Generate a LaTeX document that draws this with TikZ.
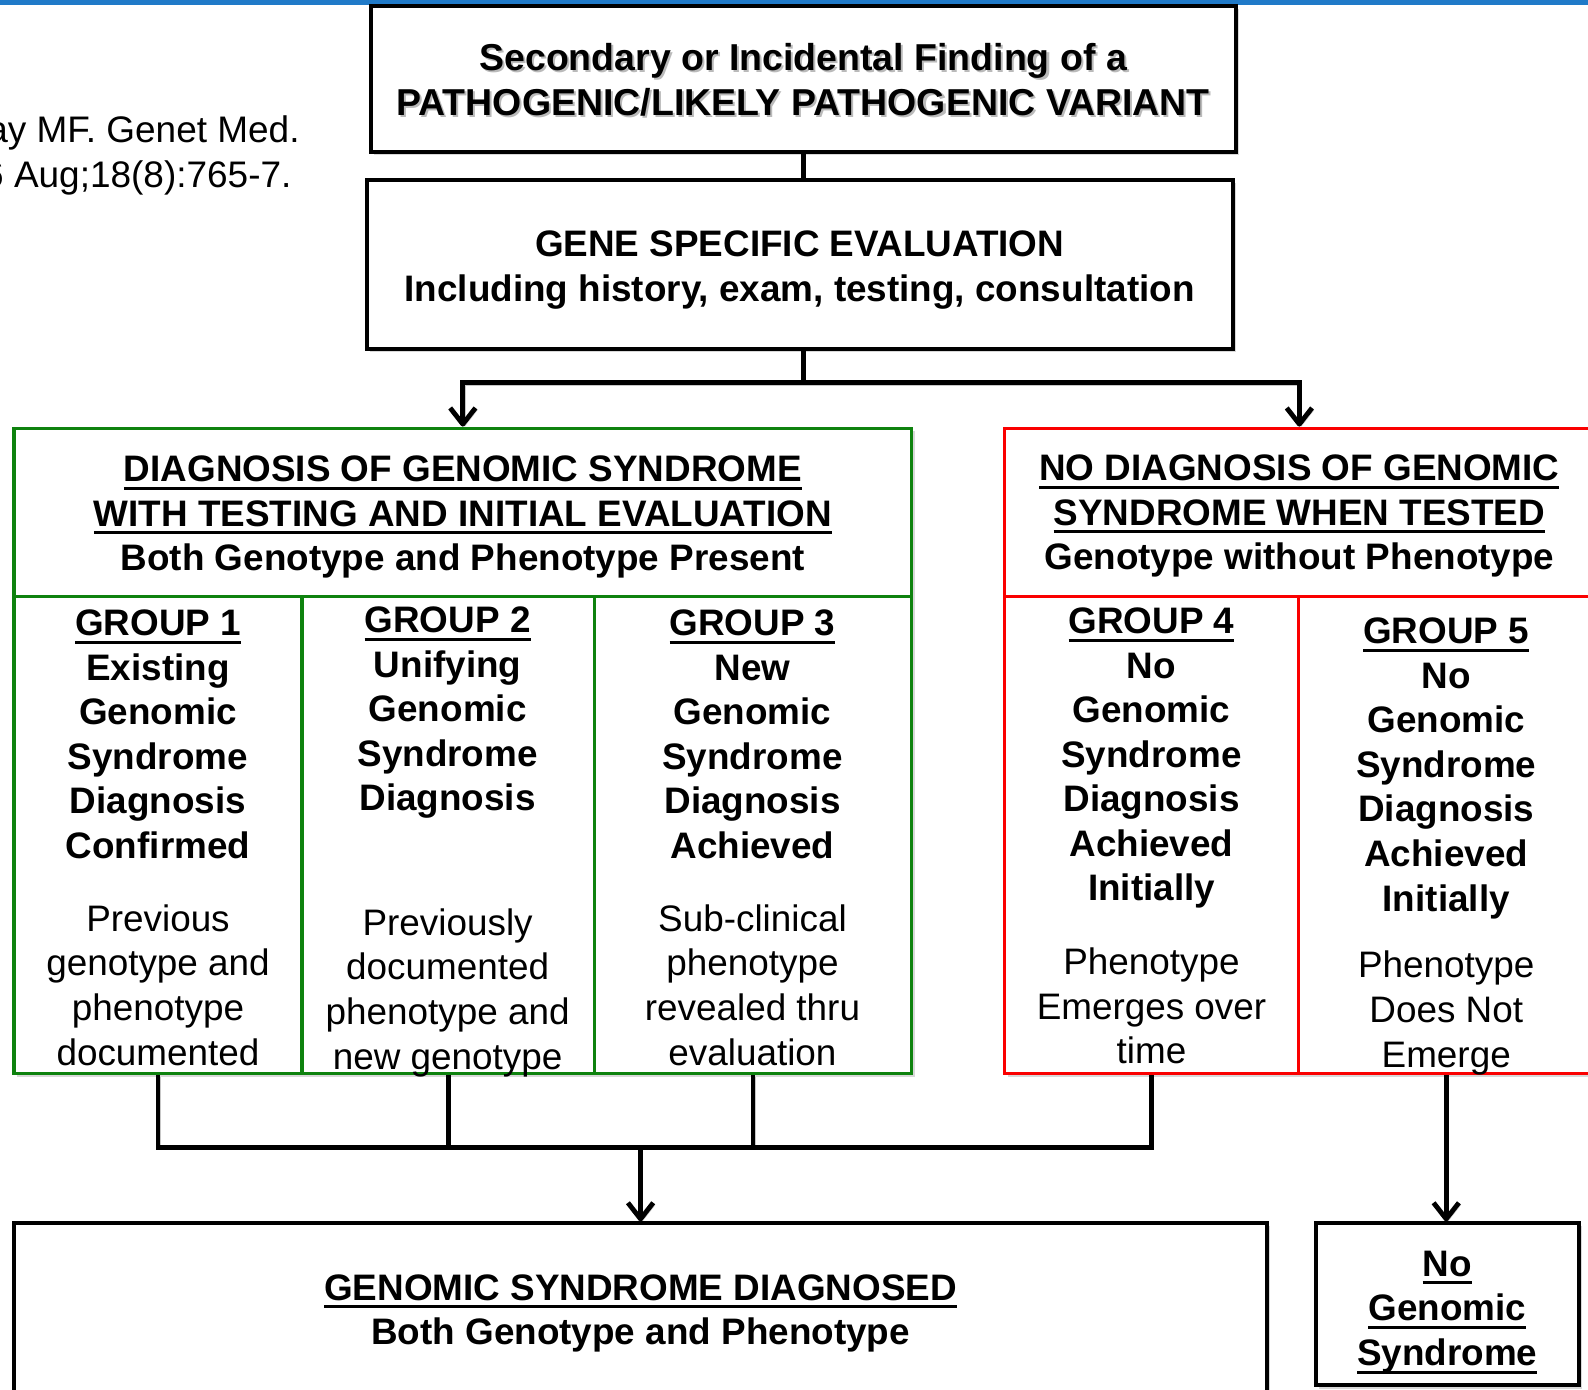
\documentclass[tikz,border=0pt]{standalone}
\usepackage{fontspec}
\setmainfont{Liberation Sans}
\usetikzlibrary{arrows.meta,shadows}

\definecolor{barblue}{RGB}{32,122,200}
\definecolor{dgreen}{RGB}{14,130,14}
\definecolor{rred}{RGB}{250,0,0}

% thick underline placed a little below the baseline
\newcommand\ulin[1]{\setbox0=\hbox{#1}\rlap{\rule[-8pt]{\wd0}{3pt}}\box0}

\tikzset{
  box/.style={draw=black, line width=4pt, fill=white, inner sep=0pt,
    drop shadow={shadow xshift=3pt, shadow yshift=-3pt, opacity=0.3}},
  gbox/.style={box, draw=dgreen, line width=3.6pt},
  rbox/.style={box, draw=rred, line width=3.6pt},
  txt/.style={anchor=north, inner sep=0pt, align=center,
    font=\fontsize{36.4}{44}\selectfont\bfseries, execute at begin node=\strut},
  rtxt/.style={txt, font=\fontsize{36.4}{44}\selectfont},
  citetxt/.style={anchor=north east, inner sep=0pt,
    font=\fontsize{36.5}{44}\selectfont, execute at begin node=\strut},
  conn/.style={line width=4.8pt,
    preaction={draw=black, opacity=0.22, transform canvas={xshift=2pt,yshift=-2pt}}},
  arr/.style={conn, -{Straight Barb[length=16pt,width=25pt,line join=round]}},
}

\begin{document}
\begin{tikzpicture}[x=1pt,y=-1pt]
\useasboundingbox (0,0) rectangle (1568,1372);
\clip (0,0) rectangle (1568,1372);
\fill[white] (0,0) rectangle (1568,1372);
\fill[barblue] (0,0) rectangle (1568,5);

% citation, running off the left edge
\node[citetxt] (cite1) at (296,110) {ay MF. Genet Med.};
\node[citetxt] (cite2) at (288,154) {6 Aug;18(8):765-7.};

% top of the flow
\node[box, minimum width=854pt, minimum height=145pt] (top) at (793,78) {};
\node[txt, font=\fontsize{37}{44}\selectfont\bfseries, text=black!45, opacity=0.6,
  xshift=2pt, yshift=-2pt] (topshadow) at (793,43)
  {Secondary or Incidental Finding of a\\PATHOGENIC/LIKELY PATHOGENIC VARIANT};
\node[txt, font=\fontsize{37}{44}\selectfont\bfseries] (toptext) at (793,43)
  {Secondary or Incidental Finding of a\\PATHOGENIC/LIKELY PATHOGENIC VARIANT};

\node[box, minimum width=855pt, minimum height=167pt] (gene) at (789.5,261.5) {};
\node[txt] (genetext) at (789.5,228)
  {GENE SPECIFIC EVALUATION\\Including history, exam, testing, consultation};

% diagnosis block (green)
\node[gbox, minimum width=886pt, minimum height=166pt] (ghead) at (457,506) {};
\node[gbox, minimum width=284pt, minimum height=471pt] (g1) at (156,824.5) {};
\node[gbox, minimum width=289pt, minimum height=471pt] (g2) at (442.5,824.5) {};
\node[gbox, minimum width=313pt, minimum height=471pt] (g3) at (743.5,824.5) {};
\node[txt] (gheadtext) at (457,450)
  {\ulin{DIAGNOSIS OF GENOMIC SYNDROME}\\\ulin{WITH TESTING AND INITIAL EVALUATION}\\Both Genotype and Phenotype Present};

% no-diagnosis block (red)
\node[rbox, minimum width=582pt, minimum height=166pt] (rhead) at (1283,506) {};
\node[rbox, minimum width=290pt, minimum height=471pt] (g4) at (1137,824.5) {};
\node[rbox, minimum width=292pt, minimum height=471pt] (g5) at (1428,824.5) {};
\node[txt] (rheadtext) at (1283,449)
  {\ulin{NO DIAGNOSIS OF GENOMIC}\\\ulin{SYNDROME WHEN TESTED}\\Genotype without Phenotype};

% group texts
\node[txt] (g1b) at (156,602) {\ulin{GROUP 1}\\Existing\\Genomic\\Syndrome\\Diagnosis\\Confirmed};
\node[rtxt] (g1r) at (156,893) {Previous\\genotype and\\phenotype\\documented};
\node[txt] (g2b) at (442,599) {\ulin{GROUP 2}\\Unifying\\Genomic\\Syndrome\\Diagnosis};
\node[rtxt] (g2r) at (442,897) {Previously\\documented\\phenotype and\\new genotype};
\node[txt] (g3b) at (743,602) {\ulin{GROUP 3}\\New\\Genomic\\Syndrome\\Diagnosis\\Achieved};
\node[rtxt] (g3r) at (743,893) {Sub-clinical\\phenotype\\revealed thru\\evaluation};
\node[txt] (g4b) at (1137,600) {\ulin{GROUP 4}\\No\\Genomic\\Syndrome\\Diagnosis\\Achieved\\Initially};
\node[rtxt] (g4r) at (1137,936) {Phenotype\\Emerges over\\time};
\node[txt] (g5b) at (1428,610) {\ulin{GROUP 5}\\No\\Genomic\\Syndrome\\Diagnosis\\Achieved\\Initially};
\node[rtxt] (g5r) at (1428,939) {Phenotype\\Does Not\\Emerge};

% outcomes
\node[box, minimum width=1237pt, minimum height=170pt] (bottom) at (632.5,1293) {};
\node[txt] (bottomtext) at (632.5,1258)
  {\ulin{GENOMIC SYNDROME DIAGNOSED}\\Both Genotype and Phenotype};
\node[box, minimum width=260pt, minimum height=160pt] (nobox) at (1429,1288) {};
\node[txt] (noboxtext) at (1429,1235) {\ulin{No}\\\ulin{Genomic}\\\ulin{Syndrome}};

% connectors
\coordinate (split) at (793,378);
\coordinate (merge) at (632.5,1133);
\draw[conn] (top.south) -- (top.south |- gene.north);
\draw[conn] (split |- gene.south) -- (split);
\draw[arr] (split) -| (ghead.north);
\draw[arr] (split) -| (rhead.north);

\draw[conn] (g1.south) -- (g1.south |- merge) -- (g4.south |- merge) -- (g4.south);
\draw[conn] (g2.south) -- (g2.south |- merge);
\draw[conn] (g3.south) -- (g3.south |- merge);
\draw[arr] (merge) -- (bottom.north);
\draw[arr] (g5.south) -- (g5.south |- nobox.north);
\end{tikzpicture}
\end{document}
